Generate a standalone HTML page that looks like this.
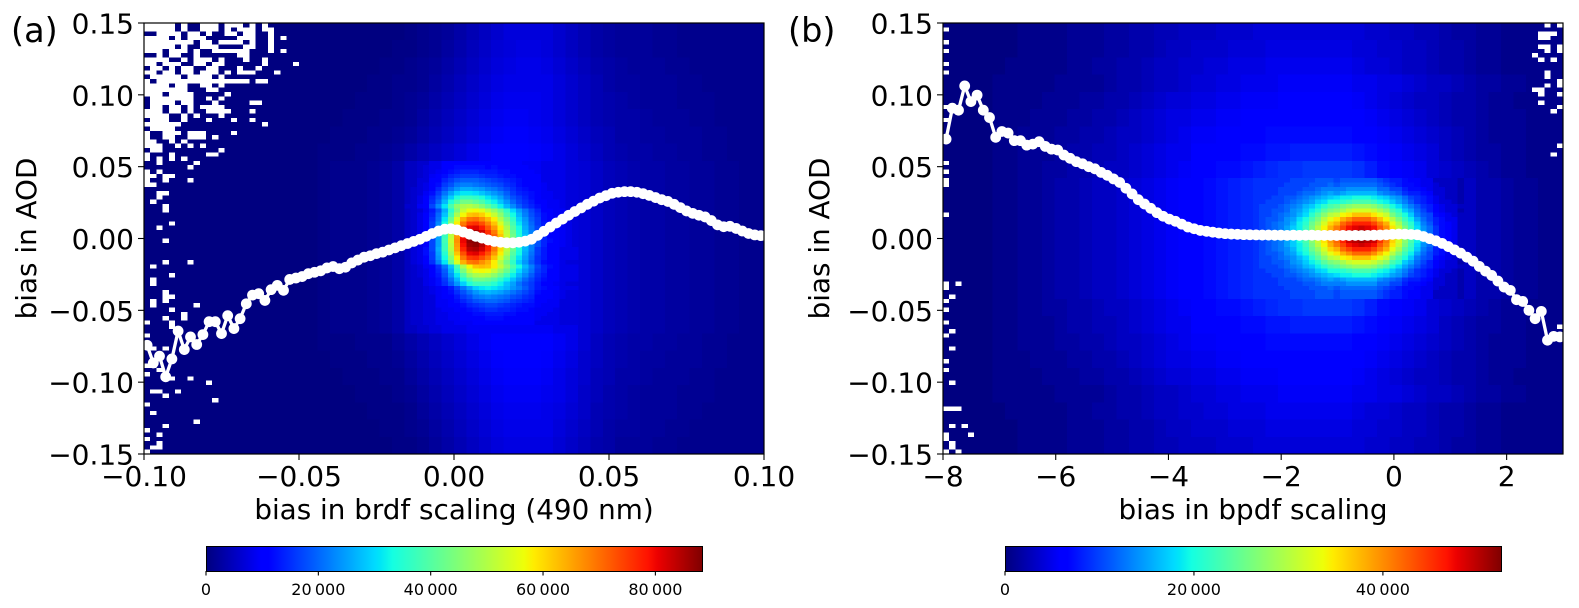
<!DOCTYPE html>
<html>
<head>
<meta charset="utf-8">
<title>Bias in AOD density plots</title>
<style>
html,body{margin:0;padding:0;background:#fff;width:1579px;height:608px;overflow:hidden}
svg{display:block}
text{font-family:"DejaVu Sans","Liberation Sans",sans-serif;fill:#000}
</style>
</head>
<body>
<svg id="chart" width="1579" height="608" viewBox="0 0 1579 608" xmlns="http://www.w3.org/2000/svg">
<defs>
<linearGradient id="jet" x1="0" x2="1" y1="0" y2="0">
<stop offset="0" stop-color="rgb(0,0,127)"/>
<stop offset="0.11" stop-color="rgb(0,0,255)"/>
<stop offset="0.125" stop-color="rgb(0,0,255)"/>
<stop offset="0.34" stop-color="rgb(0,219,255)"/>
<stop offset="0.35" stop-color="rgb(0,229,247)"/>
<stop offset="0.375" stop-color="rgb(20,255,226)"/>
<stop offset="0.64" stop-color="rgb(238,255,8)"/>
<stop offset="0.66" stop-color="rgb(255,236,0)"/>
<stop offset="0.89" stop-color="rgb(255,18,0)"/>
<stop offset="0.91" stop-color="rgb(236,0,0)"/>
<stop offset="1" stop-color="rgb(127,0,0)"/>
</linearGradient>
</defs>
<text x="11" y="42" font-size="33.5">(a)</text>
<text x="788" y="42" font-size="33.5">(b)</text>
<text transform="translate(36,238.5) rotate(-90)" text-anchor="middle" font-size="27.8">bias in AOD</text>
<text transform="translate(829,238.5) rotate(-90)" text-anchor="middle" font-size="27.8">bias in AOD</text>
<text x="454" y="519" text-anchor="middle" font-size="27.8">bias in brdf scaling (490 nm)</text>
<text x="1253" y="519" text-anchor="middle" font-size="27.8">bias in bpdf scaling</text>
<rect x="206.5" y="546.5" width="496" height="25" fill="url(#jet)" stroke="#000" stroke-width="1"/>
<rect x="1005.5" y="546.5" width="496" height="25" fill="url(#jet)" stroke="#000" stroke-width="1"/>
<g id="layer-a"></g>
<g id="layer-b"></g>
</svg>
<script>
/* Shared axis labels */
const yTicks = [-0.15, -0.10, -0.05, 0, 0.05, 0.10, 0.15];
const yTickLabels = ['\u22120.15', '\u22120.10', '\u22120.05', '0.00', '0.05', '0.10', '0.15'];
const xTicksA = [-0.10, -0.05, 0, 0.05, 0.10];
const xTickLabelsA = ['\u22120.10', '\u22120.05', '0.00', '0.05', '0.10'];
const xTicksB = [-8, -6, -4, -2, 0, 2];
const xTickLabelsB = ['\u22128', '\u22126', '\u22124', '\u22122', '0', '2'];
const colorTicksA = [0, 20000, 40000, 60000, 80000];
const colorTickLabelsA = ['0', '20\u2009000', '40\u2009000', '60\u2009000', '80\u2009000'];
const colorTicksB = [0, 20000, 40000];
const colorTickLabelsB = ['0', '20\u2009000', '40\u2009000'];
const colorMaxA = 88300;
const colorMaxB = 52500;

/* Mean AOD bias per x bin */
const meanBiasA = [-.0743,-.0866,-.0819,-.0963,-.0838,-.0644,-.0773,-.0685,-.0738,-.0669,-.0579,-.0579,-.0662,-.0537,-.0627,-.0558,-.0454,-.0394,-.0384,-.0431,-.0356,-.0326,-.0361,-.0285,
-.0275,-.0265,-.0245,-.0235,-.0225,-.0205,-.0195,-.0210,-.0200,-.0170,-.0150,-.0130,-.0120,-.0105,-.0095,-.0080,-.0065,-.0050,-.0035,-.0020,-.0005,.0015,.0035,.0052,.0065,.0068,
.0060,.0045,.0030,.0015,.0003,-.0010,-.0020,-.0026,-.0030,-.0030,-.0026,-.0018,-.0005,.0022,.0050,.0080,.0108,.0135,.0162,.0188,.0213,.0238,.0260,.0282,.0298,
.0315,.0322,.0326,.0326,.0322,.0312,.0300,.0285,.0270,.0258,.0238,.0215,.0192,.0175,.0162,.0150,.0125,.0095,.0082,.0085,.0070,.0052,.0035,.0025,.0020];
const meanBiasB = [.0692,.0907,.0893,.1062,.0953,.0998,.0893,.0842,.0704,.0745,.0734,.0681,.0681,.0650,.0657,.0674,.0641,.0622,.0616,.0581,.0558,
.0535,.0520,.0500,.0485,.0460,.0440,.0415,.0390,.0350,.0310,.0270,.0240,.0210,.0180,.0155,.0135,.0120,.0100,.0080,.0068,
.0056,.0050,.0044,.0038,.0034,.0031,.0029,.0027,.0026,.0025,.0024,.0024,.0023,.0023,.0022,.0023,.0022,.0023,.0023,.0022,
.0022,.0022,.0021,.0022,.0021,.0022,.0021,.0022,.0023,.0024,.0026,.0029,.0031,.0030,.0028,.0026,.0014,-.0001,-.0016,
-.0034,-.0056,-.0079,-.0102,-.0130,-.0158,-.0194,-.0227,-.0257,-.0296,-.0338,-.0361,-.0426,-.0438,-.0500,-.0558,-.0507,-.0708,-.0681,-.0685];

/* Empty bins: first number is the y bin from the top, the rest are x bins */
const emptyBinsA = [
[0,0,1,2,3,4,6,9,10,11,13,14,15,17,19],[1,0,1,2,3,4,6,9,10,11,13,15,16,17,19,20],[2,2,3,4,5,7,8,10,13,14,16,17,20],[3,0,1,2,3,5,7,8,9,15,16,17,20,22],
[4,0,1,2,3,4,5,6,7,9,10,12,13,14,15,17,20],[5,0,1,2,3,4,6,9,10,11,16,17,20],[6,0,1,2,4,5,6,8,11,12,13,14,15,16,20,22],[7,2,4,5,8,15,16],
[8,0,1,2,3,6,8,9,10,12,16,19],[9,0,1,3,4,5,8,9,11,12,19,24],[10,1,2,4,6,7,10,11,15,18],[11,0,1,3,4,6,7,9,10,11,13,15,16,17,21],
[12,1,2,3,4,5,7,8,9,10,12],[13,0,2,3,4,5,6,7,8,9,10,11,12,13,14,15,16,18,19],[14,0,1,2,3,5,6,9,10,12],[15,0,1,2,3,4,5,6,10,11],
[16,0,1,2,4,5,6,7,13],[17,1,2,3,4,5,6,7,10,12],[18,1,2,3,4,6,7,11,17,18],[19,1,2,4,5,7,9,10,11,12],[20,0,1,2,4,5,7,10,11,12,13,17],
[21,0,1,2,3,6,8,12],[22,1,2,3,6,10,14,17],[23,0,1,2,3,4,5,19],[24,1,2,3,4],[25,0,3,4,5,7,8,9,14],[26,0,3,4,7,8,9,11],[27,0,1,4,6],
[28,0,1,2,5,7,9],[29,1,2,12],[30,0,4,10,11],[31,0,2,4,6],[32,2,8],[33,7],[34,0,2],[35,0,1,3,4],[36,0,3,7],[37,0,1],[39,2,3],[40,2],[41,1],[42,3],[43,3],
[46,4],[47,2],[50,3],[55,3,7],[56,1],[58,4],[59,1],[60,1],[62,3],[63,3,4],[64,1,3],[65,1,8],[66,4],[67,6],[68,3,6],[69,0,4],[70,4],[72,0],[75,1,3],
[79,0,1],[80,2],[81,0],[82,4,7],[83,10],[85,1,2,5],[86,3],[87,11],[88,0],[90,1],[92,8],[93,3],[94,0],[95,2],[96,0],[97,2],[98,1,2],[99,0]];
const emptyBinsB = [
[0,97,99],[1,0],[2,96,97,98],[3,96,97],[4,0],[5,96,97,99],[6,0,97,99],[7,95],[8,96,98],[9,0],[11,0,97],[12,97],[13,99],[14,97,99],[15,95,96],[16,96,99],
[18,96],[19,0,99],[20,98],[22,0],[28,99],[30,98],[32,0],[34,0],[36,0],[37,0],[44,0],[60,0,2],[61,0],[63,1],[64,0],[66,0],[69,0],[70,99],[71,1],[72,0],[75,1],
[78,0],[80,0],[83,1],[89,0,1,2],[93,1,3],[95,0,4],[96,0],[97,1],[98,1],[99,0,2]];

/* Counts in thousands, coarse background: 2 x bins by 4 y bins, starting at x bin 28 */
const a0 = [0,0,0,0,0,0,0,.5,1,1.5,2,3,4,5,6,7,7,7,7,6,5,4,3,2.5,2,2,2,1.5,1.5,1,1,1,1,1,1,1];
const a1 = [0,0,0,0,0,0,.5,.5,1,1.5,2.5,3.5,4.5,5.5,6.5,7,7.5,7.5,7,6,5,4,3,2.5,2,2,2,1.5,1.5,1,1,1,1,1,1,1];
const a2 = [0,0,0,0,0,.5,.5,1,1.5,2,3,4,5,6,7,7.5,8,8,7.5,6.5,5.5,4.5,3.5,3,2.5,2,2,2,1.5,1.5,1,1,1,1,1,1];
const a3 = [0,0,0,0,.5,.5,1,1,1.5,2.5,3.5,4.5,5.5,6.5,7.5,8,8,8,8,7,6,5,4,3,2.5,2.5,2,2,2,1.5,1.5,1,1,1,1,1];
const a4 = [0,0,0,.5,.5,.5,1,1.5,2,3,4,5,6,7,8,8.5,8.5,8.5,8,7,6,5,4,3.5,3,2.5,2,2,2,1.5,1.5,1.5,1,1,1,1];
const a5 = [0,0,.5,.5,.5,1,1,1.5,2.5,3.5,4.5,5.5,6.5,7.5,8.5,9,9,8.5,8,7,6,5,4,3.5,3,3,2.5,2,2,2,1.5,1.5,1,1,1,1];
const a6 = [0,.5,.5,.5,1,1,1.5,2,3,4,5,6,7,8,9,9.5,9.5,9,8.5,7.5,6.5,5.5,4.5,4,3,3,2.5,2.5,2,2,2,1.5,1.5,1,1,1];
const a7 = [.5,.5,.5,1,1,1.5,2,3,4,5,6,7,8,9,10,10,10,9.5,9,8,7,6,5,4,3.5,3,3,2.5,2.5,2,2,1.5,1.5,1,1,1];
const a9 = [.5,1,1,1,1.5,2,3,5,6,7,8,8,9,9,9,9,9,9,9,8,8,6.5,5.5,4.5,4,3.5,3,3,2.5,2.5,2,2,1.5,1.5,1,1];
const a18 = [.5,.5,.5,1,1,1,2,3,4,5,6,7,8,9,10,10,10.5,10.5,10,9,8,6.5,5,4,3.5,3,3,2.5,2.5,2,2,1.5,1.5,1,1,1];
const a19 = [0,.5,.5,.5,1,1,1.5,2.5,3.5,4.5,5.5,6.5,7.5,8.5,9.5,10,10,10,9.5,8.5,7.5,6,5,4,3.5,3,2.5,2.5,2,2,2,1.5,1.5,1,1,1];
const a20 = [0,0,.5,.5,.5,1,1,2,3,4,5,6,7,8,9,9.5,9.5,9.5,9,8,7,6,4.5,4,3,3,2.5,2,2,2,1.5,1.5,1,1,1,1];
const a21 = [0,0,0,.5,.5,.5,1,1.5,2.5,3.5,4.5,5.5,6.5,7.5,8.5,9,9,9,8.5,8,7,5.5,4.5,3.5,3,2.5,2,2,2,1.5,1.5,1.5,1,1,1,1];
const a22 = [0,0,0,0,.5,.5,.5,1,2,3,4,5,6,7,8,8.5,8.5,8.5,8,7.5,6.5,5.5,4,3.5,3,2.5,2,2,2,1.5,1.5,1,1,1,1,1];
const a23 = [0,0,0,0,0,.5,.5,1,1.5,2.5,3.5,4.5,5.5,6.5,7.5,8,8,8,8,7,6,5,4,3,2.5,2.5,2,2,1.5,1.5,1,1,1,1,1,1];
const a24 = [0,0,0,0,0,0,.5,.5,1,2,3,4,5,6,7,7.5,7.5,7.5,7.5,6.5,5.5,4.5,3.5,3,2,2,2,1.5,1.5,1,1,1,1,1,1,1];
const coarseCountsA = [a0,a1,a2,a3,a4,a5,a6,a7,a9,a9,a9,a9,a9,a9,a9,a9,a9,a9,a18,a19,a20,a21,a22,a23,a24];

/* Counts in thousands around the peak, single bins: x bins 42 to 69, y bins 32 to 69 */
const peakCountsA = [
[5,5,6,6,8,8,10,10,11,11,11,11,11,10,11,11,10,10,10,9,9,9,8,8,8,8,7,7],
[5,5,6,7,8,8,10,11,12,12,12,12,12,11,12,11,11,10,10,10,9,9,8,8,8,8,7,7],
[5,5,6,7,8,9,11,12,13,14,14,14,13,13,13,12,12,11,10,10,10,9,8,8,8,8,7,7],
[5,5,6,7,9,10,12,14,15,16,16,16,15,14,14,13,12,12,11,10,10,10,8,8,8,8,7,7],
[5,5,7,7,10,11,14,16,18,19,19,19,18,17,16,15,14,13,12,11,10,10,8,8,8,8,7,7],
[5,5,7,8,10,12,16,18,21,22,22,21,20,19,18,17,15,14,12,11,11,10,9,8,8,8,7,7],
[5,6,7,8,11,14,18,21,24,26,26,25,24,22,21,19,17,15,13,12,11,10,9,8,8,8,7,7],
[5,6,7,9,12,16,21,25,29,31,31,30,28,26,24,22,19,16,14,13,12,11,9,9,8,8,7,7],
[5,6,8,10,14,18,24,29,34,37,37,36,34,31,28,25,21,18,16,14,12,11,9,9,8,8,7,7],
[5,6,8,10,15,20,27,34,39,43,43,41,39,35,32,28,24,20,17,15,13,11,10,9,9,8,7,7],
[6,6,9,11,17,23,31,39,46,49,50,48,45,41,37,32,27,23,19,16,14,12,10,9,9,8,7,7],
[5,6,7,9,13,18,26,35,44,52,56,57,55,51,47,42,36,30,25,21,17,14,11,10,9,9,7,7],
[5,6,8,10,14,20,28,38,49,57,62,63,61,57,52,46,39,33,27,22,18,15,12,10,9,9,7,7],
[5,6,8,10,15,21,31,42,54,64,69,70,67,63,58,50,43,36,29,24,19,16,12,11,10,9,7,7],
[5,6,8,10,16,23,33,45,58,69,75,76,73,68,62,54,46,38,31,25,20,16,13,11,10,9,8,7],
[5,6,8,11,16,24,35,48,62,73,80,81,78,72,66,58,49,40,33,26,21,17,13,11,10,9,8,7],
[5,6,8,11,17,25,37,50,65,77,84,85,82,76,69,60,51,42,34,27,22,17,13,11,10,9,8,7],
[5,6,8,11,17,25,37,51,66,79,86,87,84,78,71,62,52,43,35,28,22,18,14,11,10,9,8,7],
[5,6,8,11,17,25,38,52,67,80,87,88,84,79,72,62,53,43,35,28,22,18,14,12,10,9,8,7],
[5,6,8,11,17,25,37,51,66,79,86,87,84,78,71,62,52,43,35,28,22,18,14,11,10,9,8,7],
[5,7,8,12,17,26,37,50,65,77,84,85,82,77,69,60,51,42,34,27,22,16,13,11,10,8,8,8],
[5,7,8,12,16,25,35,48,62,73,80,81,78,73,66,58,49,40,33,26,21,16,13,11,10,8,8,8],
[5,7,8,11,16,24,33,45,58,69,75,76,73,69,62,54,46,38,31,25,20,15,13,11,10,8,8,8],
[5,7,8,11,15,22,31,42,54,64,69,70,67,64,58,50,43,36,29,24,19,15,12,11,10,8,7,7],
[5,6,7,9,11,15,21,28,38,49,57,62,63,62,58,52,46,39,33,27,22,17,14,12,10,8,8,8],
[5,6,7,8,10,14,19,26,35,44,52,56,57,56,52,47,42,36,30,25,21,16,14,11,10,8,8,8],
[5,6,7,8,10,13,18,24,31,39,46,49,50,49,46,42,37,32,27,23,19,15,13,11,10,8,8,8],
[5,6,6,8,9,12,16,21,27,34,39,43,43,42,40,36,32,28,24,20,17,14,12,10,10,8,8,8],
[5,6,6,8,9,12,15,19,24,29,34,37,37,37,35,32,28,25,21,18,16,13,11,10,9,8,7,7],
[5,6,6,7,8,9,11,13,17,21,25,29,31,32,31,29,27,24,22,19,16,13,12,11,10,8,8,8],
[5,6,6,7,8,9,10,12,15,18,21,24,26,27,26,25,23,21,19,17,15,12,11,10,9,8,7,7],
[5,6,6,7,7,9,10,11,13,16,18,21,22,23,22,21,20,18,17,15,14,11,10,10,9,8,7,7],
[5,6,6,7,7,9,9,11,12,14,16,18,19,20,20,19,18,16,15,14,13,11,10,9,9,7,7,7],
[5,6,6,7,7,9,9,10,11,12,14,15,16,17,17,16,15,14,13,12,12,10,9,9,9,7,7,7],
[5,6,6,7,7,8,9,9,10,11,12,13,14,15,15,14,14,13,12,12,11,9,9,9,8,7,7,7],
[5,6,6,7,7,8,8,9,9,10,11,12,12,13,13,13,12,12,11,11,10,9,9,8,8,7,7,7],
[5,6,6,7,7,8,8,9,9,10,10,11,11,12,12,12,11,11,11,10,10,9,8,8,8,7,7,7],
[5,6,6,7,7,8,8,8,9,9,9,10,10,11,11,11,11,10,10,10,10,8,8,8,8,7,7,7]];

/* Counts in thousands, coarse background: 2 x bins by 4 y bins, starting at x bin 6 */
const b0 = [0,0,0,.5,.5,.5,.5,1,1,1,1.5,1.5,2,2,2.5,2.5,3,3,3,3.5,3.5,3.5,4,4,4,4,4,4,4,4,4,3.5,3.5,3,3,2.5,2.5,2,1.5,1.5,1,1,.5,.5,.5,.5,.5];
const b1 = [0,0,0,.5,.5,.5,.5,1,1,1,1.5,1.5,2,2,2.5,3,3,3.5,3.5,3.5,4,4,4,4.5,4.5,4.5,4.5,4.5,4.5,4.5,4,4,3.5,3.5,3,3,2.5,2,2,1.5,1,1,.5,.5,.5,.5,.5];
const b2 = [0,0,.5,.5,.5,.5,.5,1,1,1.5,1.5,2,2,2.5,3,3,3.5,3.5,4,4,4.5,4.5,4.5,5,5,5,5,5,5,5,4.5,4,4,3.5,3,3,2.5,2,2,1.5,1,1,.5,.5,.5,.5,.5];
const b3 = [0,.5,.5,.5,.5,.5,1,1,1,1,1.5,2,2,2.5,3,3,3.5,4,4,4.5,4.5,5,5,5,5.5,5.5,5.5,5.5,5.5,5.5,5,5,4.5,4.5,4,3.5,3,3,2.5,2,1.5,1.5,1,1,.5,.5,.5];
const b4 = [0,.5,.5,.5,.5,1,1,1,1.5,1.5,2,2,2.5,3,3.5,4,4,4.5,4.5,5,5,5.5,5.5,5.5,6,6,6,6,6,6,5.5,5,4.5,4,3.5,3,3,2.5,2,2,1.5,1,1,.5,.5,.5,.5];
const b5 = [0,.5,.5,.5,1,1,1,1.5,1.5,2,2,2.5,3,3.5,4,4.5,4.5,5,5,5.5,5.5,6,6,6,6.5,6.5,6.5,6.5,6.5,6.5,6,5.5,5,4.5,4,3.5,3,2.5,2,2,1.5,1,1,1,.5,.5,.5];
const b6 = [0,.5,.5,1,1,1,1.5,1.5,2,2,2.5,3,3,3.5,4,4.5,5,5.5,5.5,6,6,6.5,6.5,7,7,7,7,7,7,7,6.5,6,5.5,5,4.5,4,3.5,3,2.5,2,1.5,1,1,1,.5,.5,.5];
const b7 = [0,.5,.5,1,1,1,1.5,2,2,2.5,2.5,3,3.5,4,4.5,5,5,6,6,6.5,6.5,7,7,7.5,7.5,8,8,8,8,8,7.5,7,6,5.5,5,4.5,4,3,2.5,2,1.5,1.5,1,1,.5,.5,.5];
const b8 = [0,.5,.5,1,1,1.5,1.5,2,2,2.5,3,3,3.5,4,4.5,5,5.5,6,6.5,7,7,7.5,8,8.5,9,9,9.5,9.5,9.5,9.5,9,8,7,6,5.5,5,4,3.5,3,2.5,2,1.5,1,1,.5,.5,.5];
const b9 = [0,.5,.5,1,1,1.5,2,2,2.5,3,3,3.5,4,4.5,5,5.5,6,6.5,7,7.5,8,8.5,9,9,9.5,10,10,20,20,20,20,20,20,20,20,20,20,20,20,3,2,2,1.5,1,1,.5,.5];
const coarseCountsB = [b0,b1,b2,b3,b4,b5,b6,b7,b8,b9,b9,b9,b9,b9,b9,b9,b8,b7,b6,b5,b4,b3,b2,b1,b0];

/* Counts in thousands around the peak, single bins: x bins 51 to 83, y bins 36 to 63 */
const peakCountsB = [
[9,9,9,9,9,10,10,10,10,11,11,11,10,11,11,11,11,11,11,10,9,8,8,7,6,6,5,5,3,3,3,3,2],
[9,9,9,9,10,10,10,10,11,11,11,12,11,12,12,12,12,12,12,11,10,9,8,7,7,6,5,5,4,3,3,3,2],
[9,9,9,10,10,10,10,11,11,12,13,13,13,13,14,14,14,14,14,12,12,10,10,8,7,7,6,5,4,4,3,3,2],
[9,9,9,10,10,10,11,12,12,13,14,15,14,15,16,16,16,16,16,14,13,12,11,9,8,8,7,6,4,4,3,3,2],
[9,9,10,10,11,11,12,13,14,15,16,17,18,19,19,20,20,20,19,18,17,15,14,12,10,9,8,7,5,4,3,3,2],
[9,10,10,10,11,12,13,14,15,17,18,20,20,21,22,23,23,23,22,20,19,17,15,13,11,9,8,7,5,4,4,3,2],
[10,10,10,11,12,13,14,16,17,19,21,23,24,26,27,28,28,28,27,25,23,20,18,15,13,11,9,8,6,5,4,4,3],
[10,10,11,11,12,14,15,17,19,21,24,26,27,29,31,32,32,32,31,29,27,23,21,17,15,12,10,8,6,5,4,4,2],
[10,10,11,12,13,14,16,18,21,24,27,30,31,34,35,37,37,37,35,33,31,26,23,20,17,13,11,10,7,6,5,4,3],
[10,11,11,12,14,15,18,20,23,26,30,33,35,38,40,42,42,42,40,37,34,30,26,22,19,15,12,10,8,7,5,5,3],
[10,11,12,13,14,16,19,21,25,28,32,36,38,42,44,46,46,46,44,41,38,33,29,24,21,17,13,11,8,7,6,5,3],
[10,11,12,13,15,17,19,22,26,30,34,38,41,44,47,48,49,48,47,43,40,35,31,26,22,18,14,12,9,7,6,5,3],
[10,11,12,13,15,17,20,23,27,31,35,39,42,46,49,50,51,50,49,45,41,36,32,27,23,19,15,12,9,7,6,5,3],
[10,11,12,13,15,17,20,23,27,31,36,40,43,47,50,51,52,51,50,46,42,37,33,27,23,19,15,12,9,7,6,5,3],
[10,11,12,13,15,17,20,23,27,31,35,39,42,46,49,50,51,50,49,45,41,36,32,27,23,19,15,12,9,7,6,5,3],
[10,11,12,13,15,17,19,22,26,30,34,38,41,44,47,48,49,48,47,43,40,35,31,26,22,18,14,12,9,7,6,5,3],
[10,11,12,13,14,16,19,21,25,28,32,36,38,42,44,46,46,46,44,41,38,33,29,24,21,17,13,11,8,7,6,5,3],
[10,11,11,12,14,15,18,20,23,26,30,33,35,38,40,42,42,42,40,37,34,30,26,22,19,15,12,10,8,7,5,5,3],
[10,10,11,12,13,14,16,18,21,24,27,30,31,34,35,37,37,37,35,33,31,26,23,20,17,13,11,10,7,6,5,4,3],
[10,10,11,11,12,14,15,17,19,21,24,26,27,29,31,32,32,32,31,29,27,23,21,17,15,12,10,8,6,5,4,4,2],
[10,10,10,11,12,13,14,16,17,19,21,23,24,26,27,28,28,28,27,25,23,20,18,15,13,11,9,8,6,5,4,4,3],
[9,10,10,10,11,12,13,14,15,17,18,20,20,21,22,23,23,23,22,20,19,17,15,13,11,9,8,7,5,4,4,3,2],
[9,9,10,10,11,11,12,13,14,15,16,17,18,19,19,20,20,20,19,18,17,15,14,12,10,9,8,7,5,4,3,3,2],
[9,9,9,10,10,10,11,12,12,13,14,15,14,15,16,16,16,16,16,14,13,12,11,9,8,8,7,6,4,4,3,3,2],
[9,9,9,10,10,10,10,11,11,12,13,13,13,13,14,14,14,14,14,12,12,10,10,8,7,7,6,5,4,4,3,3,2],
[9,9,9,9,10,10,10,10,11,11,11,12,11,12,12,12,12,12,12,11,10,9,8,7,7,6,5,5,4,3,3,3,2],
[9,9,9,9,9,10,10,10,10,11,11,11,10,11,11,11,11,11,11,10,9,8,8,7,6,6,5,5,3,3,3,3,2],
[9,9,9,9,9,10,10,10,10,11,11,11,10,11,11,11,11,11,11,10,9,8,8,7,6,6,5,5,3,3,3,3,2]];

const NS = 'http://www.w3.org/2000/svg';
const BINS = 100;
const PLOT_TOP = 23, PLOT_BOTTOM = 454, PLOT_WIDTH = 620;
const BAR_TOP = 546, BAR_BOTTOM = 571, BAR_WIDTH = 496;

function yScale(v) { return PLOT_BOTTOM - (v + 0.15) / 0.3 * (PLOT_BOTTOM - PLOT_TOP); }
function xAxis(left, min, max) { return function (v) { return left + (v - min) / (max - min) * PLOT_WIDTH; }; }
function lerp(stops, t) {
  for (let i = 1; i < stops.length; i++) {
    if (t <= stops[i][0]) {
      const a = stops[i - 1], b = stops[i];
      return a[1] + (b[1] - a[1]) * (t - a[0]) / (b[0] - a[0]);
    }
  }
  return stops[stops.length - 1][1];
}
function jet(t) {
  t = Math.max(0, Math.min(1, t));
  const r = lerp([[0,0],[.35,0],[.66,1],[.89,1],[1,.5]], t);
  const g = lerp([[0,0],[.125,0],[.375,1],[.64,1],[.91,0],[1,0]], t);
  const b = lerp([[0,.5],[.11,1],[.34,1],[.65,0],[1,0]], t);
  return 'rgb(' + Math.round(r * 255) + ',' + Math.round(g * 255) + ',' + Math.round(b * 255) + ')';
}
function node(tag, parent, attrs) {
  const e = document.createElementNS(NS, tag);
  for (const k in attrs) e.setAttribute(k, attrs[k]);
  parent.appendChild(e);
  return e;
}

function drawPanel(cfg) {
  const root = document.getElementById(cfg.layer);
  const x = xAxis(cfg.left, cfg.xMin, cfg.xMax);
  const binWidth = (cfg.xMax - cfg.xMin) / BINS;
  const binEdge = function (col) { return x(cfg.xMin + col * binWidth); };
  const rowEdge = function (row) { return yScale(0.15 - row * 0.3 / BINS); };

  const bg = node('rect', root, {x: cfg.left, y: PLOT_TOP, width: PLOT_WIDTH, height: PLOT_BOTTOM - PLOT_TOP, fill: jet(0)});
  
  

  const heat = node('g', root, {'shape-rendering': 'crispEdges'});
  
  

  function cells(rows, firstCol, firstRow, colSpan, rowSpan) {
    rows.forEach(function (vals, r) {
      vals.forEach(function (v, c) {
        const c0 = firstCol + c * colSpan, r0 = firstRow + r * rowSpan;
        const cell = node('rect', heat, {
          x: binEdge(c0).toFixed(2), y: rowEdge(r0).toFixed(2),
          width: (binEdge(c0 + colSpan) - binEdge(c0) + 0.4).toFixed(2),
          height: (rowEdge(r0 + rowSpan) - rowEdge(r0) + 0.4).toFixed(2),
          fill: jet(v * 1000 / cfg.colorMax)
        });
        
        
      });
    });
  }
  cells(cfg.coarse, cfg.coarseCol, 0, 2, 4);
  cells(cfg.peak, cfg.peakCol, cfg.peakRow, 1, 1);

  cfg.empty.forEach(function (entry) {
    entry.slice(1).forEach(function (col) {
      const hole = node('rect', heat, {
        x: binEdge(col).toFixed(2), y: rowEdge(entry[0]).toFixed(2),
        width: (binEdge(col + 1) - binEdge(col)).toFixed(2),
        height: (rowEdge(entry[0] + 1) - rowEdge(entry[0])).toFixed(2),
        fill: '#fff'
      });
      
      
    });
  });

  const centers = cfg.series.map(function (v, i) { return [x(cfg.xMin + (i + 0.5) * binWidth), yScale(v)]; });
  const line = node('polyline', root, {
    points: centers.map(function (p) { return p[0].toFixed(2) + ',' + p[1].toFixed(2); }).join(' '),
    fill: 'none', stroke: '#fff', 'stroke-width': 3.3, 'stroke-linejoin': 'round'
  });
  
  
  centers.forEach(function (p) {
    const dot = node('circle', root, {cx: p[0].toFixed(2), cy: p[1].toFixed(2), r: 5.4, fill: '#fff'});
    
    
  });

  const frame = node('rect', root, {x: cfg.left, y: PLOT_TOP, width: PLOT_WIDTH, height: PLOT_BOTTOM - PLOT_TOP, fill: 'none', stroke: '#000', 'stroke-width': 1.2});
  
  

  yTicks.forEach(function (v, i) {
    const py = yScale(v);
    const t = node('line', root, {x1: cfg.left - 6, x2: cfg.left, y1: py, y2: py, stroke: '#000', 'stroke-width': 1.1});
    
    
    const lab = node('text', root, {x: cfg.left - 10, y: py + 10.5, 'text-anchor': 'end', 'font-size': 28});
    lab.textContent = yTickLabels[i];
    
    
  });
  cfg.xTicks.forEach(function (v, i) {
    const px = x(v);
    const t = node('line', root, {x1: px, x2: px, y1: PLOT_BOTTOM, y2: PLOT_BOTTOM + 6, stroke: '#000', 'stroke-width': 1.1});
    
    
    const lab = node('text', root, {x: px, y: PLOT_BOTTOM + 32, 'text-anchor': 'middle', 'font-size': 28});
    lab.textContent = cfg.xLabels[i];
    
    
  });
  cfg.colorTicks.forEach(function (v, i) {
    const px = cfg.barLeft + v / cfg.colorMax * BAR_WIDTH;
    const t = node('line', root, {x1: px, x2: px, y1: BAR_BOTTOM, y2: BAR_BOTTOM + 4.5, stroke: '#000', 'stroke-width': 1.1});
    
    
    const lab = node('text', root, {x: px, y: BAR_BOTTOM + 24, 'text-anchor': 'middle', 'font-size': 16});
    lab.textContent = cfg.colorLabels[i];
    
    
  });
}

drawPanel({layer: 'layer-a', left: 144, xMin: -0.1, xMax: 0.1, xTicks: xTicksA, xLabels: xTickLabelsA,
  series: meanBiasA, coarse: coarseCountsA, coarseCol: 28, peak: peakCountsA, peakCol: 42, peakRow: 32,
  empty: emptyBinsA, colorMax: colorMaxA, barLeft: 206, colorTicks: colorTicksA, colorLabels: colorTickLabelsA});
drawPanel({layer: 'layer-b', left: 943, xMin: -8, xMax: 3, xTicks: xTicksB, xLabels: xTickLabelsB,
  series: meanBiasB, coarse: coarseCountsB, coarseCol: 6, peak: peakCountsB, peakCol: 51, peakRow: 36,
  empty: emptyBinsB, colorMax: colorMaxB, barLeft: 1005, colorTicks: colorTicksB, colorLabels: colorTickLabelsB});
</script>
</body>
</html>
